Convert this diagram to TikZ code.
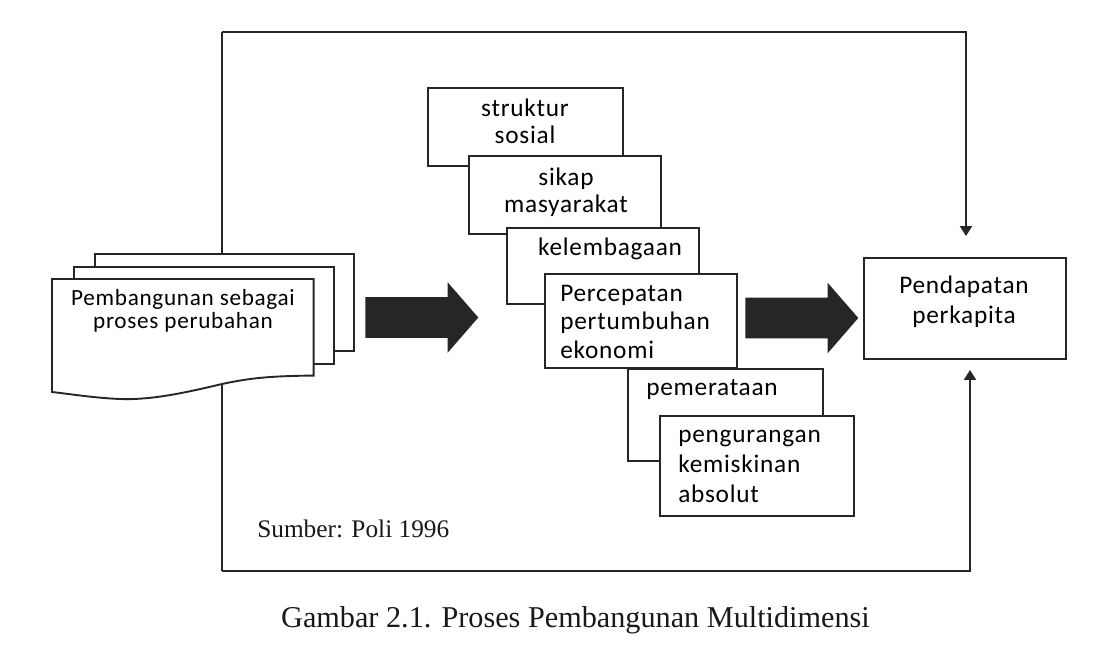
\documentclass[tikz,border=0pt]{standalone}
\usepackage{fontspec}
\setmainfont{Liberation Serif}
\newfontfamily\boxfont[LetterSpace=3]{Carlito}
\usetikzlibrary{arrows.meta,shapes.arrows}
\newcommand\pxl{0.025cm}
\tikzset{
  box/.style 2 args={rectangle, draw=black!85, line width=1.3pt, fill=white,
    inner sep=0pt, anchor=north west, minimum width=#1*\pxl, minimum height=#2*\pxl},
  boxtext/.style={inner sep=0pt, align=center, text=black,
    font=\boxfont\fontsize{18}{#1}\selectfont},
  boxtext/.default=20,
  line/.style={draw=black!85, line width=1.35pt},
  conn/.style={line, -{Triangle[length=7pt,width=8.5pt]}},
  bigarrow/.style={single arrow, fill=black!85, inner sep=20*\pxl, anchor=tail,
    minimum height=113*\pxl, minimum width=70*\pxl,
    single arrow head extend=15*\pxl, single arrow tip angle=98},
  note/.style={inner sep=0pt, text=black!90},
}

\begin{document}
\begin{tikzpicture}[x=\pxl, y=-\pxl]
  \fill[white] (0,0) rectangle (1100,653);
  \useasboundingbox (0,0) rectangle (1100,653);
  % feedback loop round the figure
  \coordinate (loopTL) at (222,32);
  \coordinate (loopBL) at (222,571);
  \coordinate (tipTop) at (966,236);
  \coordinate (tipBot) at (970,370);
  \draw[line] (loopTL) -- (loopBL);
  \draw[conn] (loopTL) -| (tipTop);
  \draw[conn] (loopBL) -| (tipBot);
  % stacked documents (left)
  \node[box={259}{97}] (docback) at (94,253) {};
  \node[box={260}{97}] (docmid) at (73,266) {};
  \node[inner sep=0pt, anchor=north west, minimum width=261*\pxl,
        minimum height=96*\pxl] (docfront) at (52,279) {};
  \filldraw[line, fill=white] (docfront.north west) -- (docfront.north east)
    -- (docfront.south east)
    .. controls (270,376) and (250,378) .. (222,384)
    .. controls (180,394) and (150,400) .. (120,399)
    .. controls (95,398) and (70,394) .. (52,392) -- cycle;
  % base of a multi-line text = baseline of its last line
  \node[boxtext, anchor=base, font=\boxfont\fontsize{16.5}{16.3}\selectfont]
    (docfront-t) at (183,328) {Pembangunan sebagai\\proses perubahan};
  % block arrows
  \node[bigarrow] (arrowL) at (365,317.5) {};
  \node[bigarrow] (arrowR) at (745,318) {};
  % cascade of dimensions (middle)
  \node[box={195}{78}] (struktur) at (427,87) {};
  \node[boxtext=18.5, anchor=base] (struktur-t) at (525,143) {struktur\\sosial};
  \node[box={192}{78}] (sikap) at (468,155) {};
  \node[boxtext=19, anchor=base] (sikap-t) at (566,212) {sikap\\masyarakat};
  \node[box={192}{76}] (lembaga) at (506,227) {};
  \node[boxtext, anchor=base] (lembaga-t) at (610,255) {kelembagaan};
  \node[box={192}{94}] (percepatan) at (544,273) {};
  \node[boxtext, anchor=base west, align=left] (percepatan-t) at (560,358)
    {Percepatan\\pertumbuhan\\ekonomi};
  \node[box={195}{92}] (pemerataan) at (627,368) {};
  \node[boxtext, anchor=base west, align=left] (pemerataan-t) at (646,395) {pemerataan};
  \node[box={194}{100}] (kemiskinan) at (659,415) {};
  \node[boxtext=21, anchor=base west, align=left] (kemiskinan-t) at (678,502)
    {pengurangan\\kemiskinan\\absolut};
  % outcome (right)
  \node[box={202}{101}] (pendapatan) at (863,257) {};
  \node[boxtext=21, anchor=base] (pendapatan-t) at (964,323) {Pendapatan\\perkapita};
  % source and caption
  \node[note, anchor=base west, font=\fontsize{18}{20}\selectfont] (sumber) at (257,537)
    {Sumber: Poli 1996};
  \node[note, anchor=base, font=\fontsize{21.5}{24}\selectfont] (caption) at (575.5,627)
    {Gambar 2.1. Proses Pembangunan Multidimensi};
\end{tikzpicture}
\end{document}
